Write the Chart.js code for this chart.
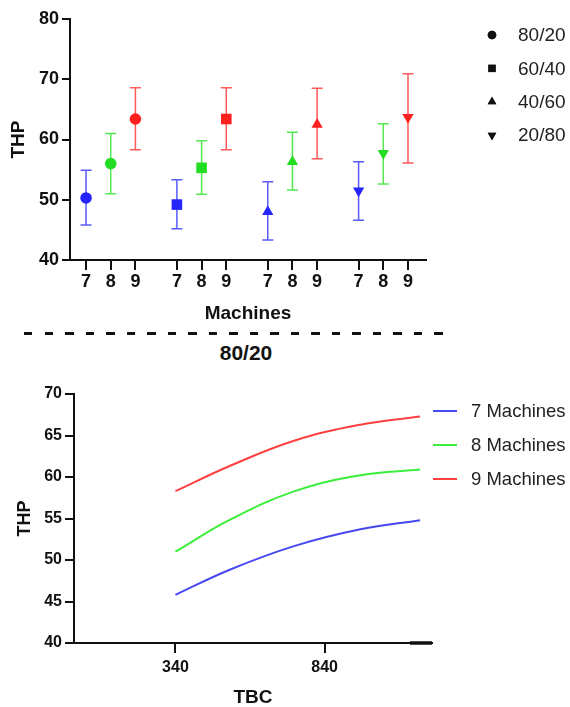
<!DOCTYPE html>
<html>
<head>
<meta charset="utf-8">
<script src="https://cdn.jsdelivr.net/npm/chart.js"></script>
<style>
  body { margin: 0; background: #fff; }
  #page { position: relative; width: 570px; height: 707px; overflow: hidden; font-family: "Liberation Sans", Arial, sans-serif; }
  #wrapTop { position: absolute; left: 0; top: 0; width: 570px; height: 330px; }
  #wrapBottom { position: absolute; left: 0; top: 340px; width: 570px; height: 367px; }
  #dash {
    position: absolute; left: 24px; top: 332px; width: 423px; height: 3px;
    background: repeating-linear-gradient(90deg, #111 0 8.5px, transparent 8.5px 20.5px);
  }
  #subtitle {
    position: absolute; left: 186px; top: 341px; width: 120px; text-align: center;
    font-weight: bold; font-size: 21px; line-height: 24px; color: #111;
  }
</style>
</head>
<body>
<div id="page">
  <div id="wrapTop"><canvas id="thpChart"></canvas></div>
  <div id="dash"></div>
  <div id="subtitle">80/20</div>
  <div id="wrapBottom"><canvas id="tbcChart"></canvas></div>
</div>
<script>
// ---- data: top chart (mean THP with error bars) ----
const ratios = ['80/20', '60/40', '40/60', '20/80'];
const machines = ['7', '8', '9'];
const thpMean = [
  [50.3, 56.0, 63.4],
  [49.2, 55.3, 63.4],
  [48.0, 56.3, 62.5],
  [51.5, 57.7, 63.7]
];
const thpHigh = [
  [54.9, 61.0, 68.6],
  [53.3, 59.8, 68.6],
  [53.0, 61.2, 68.5],
  [56.3, 62.6, 70.9]
];
const thpLow = [
  [45.8, 51.0, 58.3],
  [45.2, 50.9, 58.3],
  [43.3, 51.6, 56.8],
  [46.6, 52.6, 56.1]
];
const yTicksTop = [40, 50, 60, 70, 80];

// ---- data: bottom chart (THP vs TBC, 80/20) ----
const seriesNames = ['7 Machines', '8 Machines', '9 Machines'];
const tbc = [340, 520, 740, 960, 1160];
const thp7 = [45.8, 48.8, 51.7, 53.7, 54.8];
const thp8 = [51.0, 54.8, 58.3, 60.2, 60.9];
const thp9 = [58.3, 61.3, 64.4, 66.3, 67.3];
const tbcTicks = [340, 840];

// styling
const FONT = '"Liberation Sans", Arial, sans-serif';
const INK = '#111';
const markColors = ['#2424ff', '#22dd22', '#ff1f1f'];
const barColors = ['#5a5aff', '#55e855', '#ff5a5a'];
const lineColors = ['#4848f0', '#3cee3c', '#ff4040'];
const shapes = [
  { style: 'circle', radius: 5.8, rotation: 0 },
  { style: 'rect', radius: 7.5, rotation: 0 },
  { style: 'triangle', radius: 6.5, rotation: 0 },
  { style: 'triangle', radius: 6.5, rotation: 180 }
];
const GROUP_STEP = 3.68;   // gap between ratio groups, in x units
const xOf = (g, m) => g * GROUP_STEP + m;

function axisGrid(len) {
  return { display: true, drawOnChartArea: false, drawTicks: true, tickLength: len, color: INK, lineWidth: 2 };
}

// error bars drawn under the markers
const errorBars = {
  id: 'errorBars',
  beforeDatasetsDraw(chart) {
    const { ctx, scales: { x, y } } = chart;
    ctx.save();
    ctx.lineWidth = 1.5;
    ratios.forEach((r, g) => {
      machines.forEach((m, i) => {
        const px = x.getPixelForValue(xOf(g, i));
        const hi = y.getPixelForValue(thpHigh[g][i]);
        const lo = y.getPixelForValue(thpLow[g][i]);
        ctx.strokeStyle = barColors[i];
        ctx.beginPath();
        ctx.moveTo(px, hi); ctx.lineTo(px, lo);
        ctx.moveTo(px - 5.5, hi); ctx.lineTo(px + 5.5, hi);
        ctx.moveTo(px - 5.5, lo); ctx.lineTo(px + 5.5, lo);
        ctx.stroke();
      });
    });
    ctx.restore();
  }
};

// legend with black shapes, right of the plot
const shapeLegend = {
  id: 'shapeLegend',
  afterDraw(chart) {
    const ctx = chart.ctx;
    ctx.save();
    ratios.forEach((r, i) => {
      const y = 35 + i * 33.4;
      const s = shapes[i];
      Chart.helpers.drawPoint(ctx, {
        pointStyle: s.style, radius: s.style === 'rect' ? 5.2 : (s.style === 'circle' ? 4.3 : 5), rotation: s.rotation, borderWidth: 0
      }, 492, y);
      ctx.fillStyle = INK;
      ctx.fill();
      ctx.fillStyle = '#222';
      ctx.font = '19px ' + FONT;
      ctx.textBaseline = 'middle';
      ctx.fillText(r, 518, y + 1);
    });
    ctx.restore();
  }
};

const lineLegend = {
  id: 'lineLegend',
  afterDraw(chart) {
    const ctx = chart.ctx;
    ctx.save();
    seriesNames.forEach((name, i) => {
      const y = 71 + i * 34;
      ctx.strokeStyle = lineColors[i];
      ctx.lineWidth = 2;
      ctx.beginPath();
      ctx.moveTo(433, y); ctx.lineTo(457, y);
      ctx.stroke();
      ctx.fillStyle = '#222';
      ctx.font = '18.5px ' + FONT;
      ctx.textBaseline = 'middle';
      ctx.fillText(name, 471, y + 1);
    });
    // heavier stub at the right end of the x axis
    const a = chart.chartArea;
    ctx.strokeStyle = INK;
    ctx.lineWidth = 3.5;
    ctx.beginPath();
    ctx.moveTo(a.right - 22, a.bottom); ctx.lineTo(a.right, a.bottom);
    ctx.stroke();
    ctx.restore();
  }
};

new Chart(document.getElementById('thpChart'), {
  type: 'scatter',
  data: {
    datasets: ratios.map((r, g) => ({
      label: r,
      data: thpMean[g].map((v, i) => ({ x: xOf(g, i), y: v })),
      pointStyle: shapes[g].style,
      pointRadius: shapes[g].radius,
      pointRotation: shapes[g].rotation,
      pointBackgroundColor: markColors,
      pointBorderColor: markColors,
      pointBorderWidth: 0,
      showLine: false
    }))
  },
  options: {
    responsive: true,
    maintainAspectRatio: false,
    animation: false,
    layout: { padding: { top: 19, bottom: 0, left: 0, right: 144 } },
    plugins: { legend: { display: false }, tooltip: { enabled: false } },
    scales: {
      x: {
        type: 'linear',
        min: -0.65,
        max: 13.77,
        afterBuildTicks: s => { s.ticks = ratios.flatMap((r, g) => machines.map((m, i) => ({ value: xOf(g, i) }))); },
        afterFit: s => { s.height = 70; },
        ticks: {
          autoSkip: false, maxRotation: 0, padding: 1, color: INK,
          font: { family: FONT, size: 18, weight: 'bold' },
          callback: (v, i) => machines[i % machines.length]
        },
        grid: axisGrid(10),
        border: { display: true, color: INK, width: 2 },
        title: {
          display: true, text: 'Machines', color: INK,
          font: { family: FONT, size: 19, weight: 'bold', lineHeight: 1 },
          padding: { top: 0, bottom: 7 }
        }
      },
      y: {
        min: 40,
        max: 80,
        afterBuildTicks: s => { s.ticks = yTicksTop.map(v => ({ value: v })); },
        afterFit: s => { s.width = 70; },
        ticks: { padding: 3, color: INK, font: { family: FONT, size: 18, weight: 'bold' } },
        grid: axisGrid(8),
        border: { display: true, color: INK, width: 2 },
        title: {
          display: true, text: 'THP', color: INK,
          font: { family: FONT, size: 19, weight: 'bold', lineHeight: 1 },
          padding: { top: 9, bottom: 0 }
        }
      }
    }
  },
  plugins: [errorBars, shapeLegend]
});

const thpSeries = [thp7, thp8, thp9];

new Chart(document.getElementById('tbcChart'), {
  type: 'scatter',
  data: {
    datasets: seriesNames.map((name, i) => ({
      label: name,
      data: tbc.map((t, k) => ({ x: t, y: thpSeries[i][k] })),
      showLine: true,
      borderColor: lineColors[i],
      borderWidth: 2,
      pointRadius: 0,
      tension: 0.4,
      fill: false
    }))
  },
  options: {
    responsive: true,
    maintainAspectRatio: false,
    animation: false,
    layout: { padding: { top: 54, bottom: 0, left: 0, right: 138 } },
    plugins: { legend: { display: false }, tooltip: { enabled: false } },
    scales: {
      x: {
        type: 'linear',
        min: 0,
        max: 1200,
        afterBuildTicks: s => { s.ticks = tbcTicks.map(v => ({ value: v })); },
        afterFit: s => { s.height = 64; },
        ticks: { autoSkip: false, maxRotation: 0, padding: 5, color: INK, font: { family: FONT, size: 16, weight: 'bold' } },
        grid: axisGrid(10),
        border: { display: true, color: INK, width: 2 },
        title: {
          display: true, text: 'TBC', color: INK,
          font: { family: FONT, size: 19, weight: 'bold', lineHeight: 1 },
          padding: { top: 0, bottom: 0 }
        }
      },
      y: {
        min: 40,
        max: 70,
        ticks: { stepSize: 5, padding: 3, color: INK, font: { family: FONT, size: 16, weight: 'bold' } },
        afterFit: s => { s.width = 74; },
        grid: axisGrid(9),
        border: { display: true, color: INK, width: 2 },
        title: {
          display: true, text: 'THP', color: INK,
          font: { family: FONT, size: 18, weight: 'bold', lineHeight: 1 },
          padding: { top: 16, bottom: 0 }
        }
      }
    }
  },
  plugins: [lineLegend]
});
</script>
</body>
</html>
